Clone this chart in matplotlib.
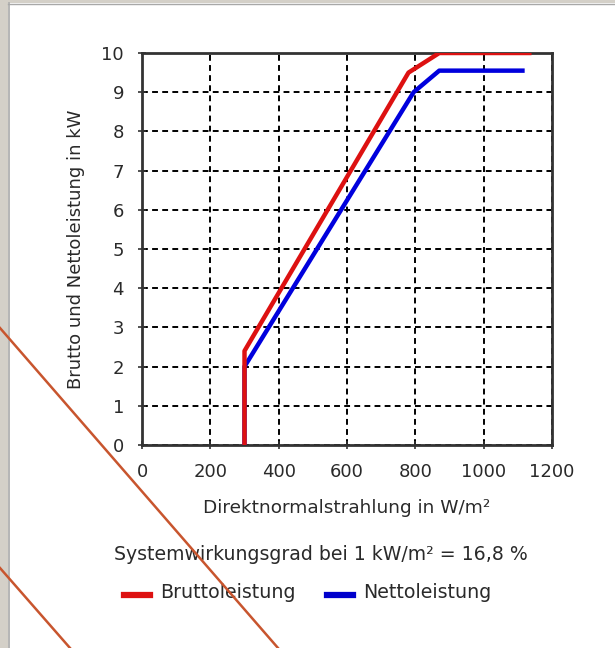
import matplotlib
matplotlib.use("Agg")
import matplotlib.pyplot as plt
from matplotlib.patches import Rectangle
from matplotlib.lines import Line2D

# ---- data ----
brutto_x = [300, 300, 780, 870, 1140]
brutto_y = [0, 2.4, 9.5, 10.0, 10.0]
netto_x = [300, 300, 795, 870, 1120]
netto_y = [0, 2.0, 9.0, 9.55, 9.55]
x_ticks = [0, 200, 400, 600, 800, 1000, 1200]
y_ticks = [0, 1, 2, 3, 4, 5, 6, 7, 8, 9, 10]

plt.rcParams['font.family'] = ['DejaVu Sans']

W, H = 615, 648
fig = plt.figure(figsize=(W / 100, H / 100), dpi=100)
fig.patch.set_facecolor('white')

# window frame decoration
fig.add_artist(Rectangle((0, 0), 8 / W, 1, transform=fig.transFigure,
                         facecolor='#d4d0c8', edgecolor='none', zorder=0))
fig.add_artist(Rectangle((0, 1 - 3 / H), 1, 3 / H, transform=fig.transFigure,
                         facecolor='#d4d0c8', edgecolor='none', zorder=0))
fig.add_artist(Line2D([8.5 / W, 8.5 / W], [0, 1 - 3 / H], transform=fig.transFigure,
                      color='#a8a8a8', lw=1.2, zorder=1))
fig.add_artist(Line2D([8 / W, 1], [1 - 3.5 / H, 1 - 3.5 / H], transform=fig.transFigure,
                      color='#a8a8a8', lw=1.0, zorder=1))

left, right, top, bottom = 142, 552, 53, 445
ax = fig.add_axes([left / W, 1 - bottom / H, (right - left) / W, (bottom - top) / H])

ax.set_xlim(0, 1200)
ax.set_ylim(0, 10)
ax.set_xticks(x_ticks)
ax.set_yticks(y_ticks)
ax.grid(True, color='black', linestyle=(0, (3, 2.2)), linewidth=1.4)
ax.set_axisbelow(True)

for s in ax.spines.values():
    s.set_color('#333333')
    s.set_linewidth(2.0)

ax.tick_params(axis='both', direction='inout', length=6, width=1.2, color='#333333',
               labelsize=13, labelcolor='#2a2a2a')
ax.tick_params(axis='x', pad=10)
ax.tick_params(axis='y', pad=10)

ax.plot(netto_x, netto_y, color='#0000dd', lw=3.2, solid_capstyle='butt', zorder=3)
ax.plot(brutto_x, brutto_y, color='#dd1111', lw=3.2, solid_capstyle='butt', zorder=4)

ax.set_xlabel('Direktnormalstrahlung in W/m²', fontsize=13.3, color='#2a2a2a', labelpad=13)
ax.set_ylabel('Brutto und Nettoleistung in kW', fontsize=13, color='#2a2a2a', labelpad=12)

fig.text(321 / W, 1 - 555 / H, 'Systemwirkungsgrad bei 1 kW/m² = 16,8 %',
         ha='center', va='center', fontsize=13.6, color='#2a2a2a')

# legend
fig.add_artist(Line2D([124 / W, 150 / W], [1 - 595 / H, 1 - 595 / H],
                      transform=fig.transFigure, color='#dd1111', lw=4.5))
fig.text(160 / W, 1 - 592 / H, 'Bruttoleistung', ha='left', va='center',
         fontsize=13.7, color='#2a2a2a')
fig.add_artist(Line2D([327 / W, 353 / W], [1 - 595 / H, 1 - 595 / H],
                      transform=fig.transFigure, color='#0000cc', lw=4.5))
fig.text(363 / W, 1 - 592 / H, 'Nettoleistung', ha='left', va='center',
         fontsize=13.7, color='#2a2a2a')

# diagonal overlay lines
fig.add_artist(Line2D([0, 278 / W], [1 - 328 / H, 0], transform=fig.transFigure,
                      color='#c8552e', lw=1.8, zorder=10))
fig.add_artist(Line2D([0, 70 / W], [1 - 568 / H, 0], transform=fig.transFigure,
                      color='#c8552e', lw=1.8, zorder=10))

fig.savefig('out.png', dpi=100)
